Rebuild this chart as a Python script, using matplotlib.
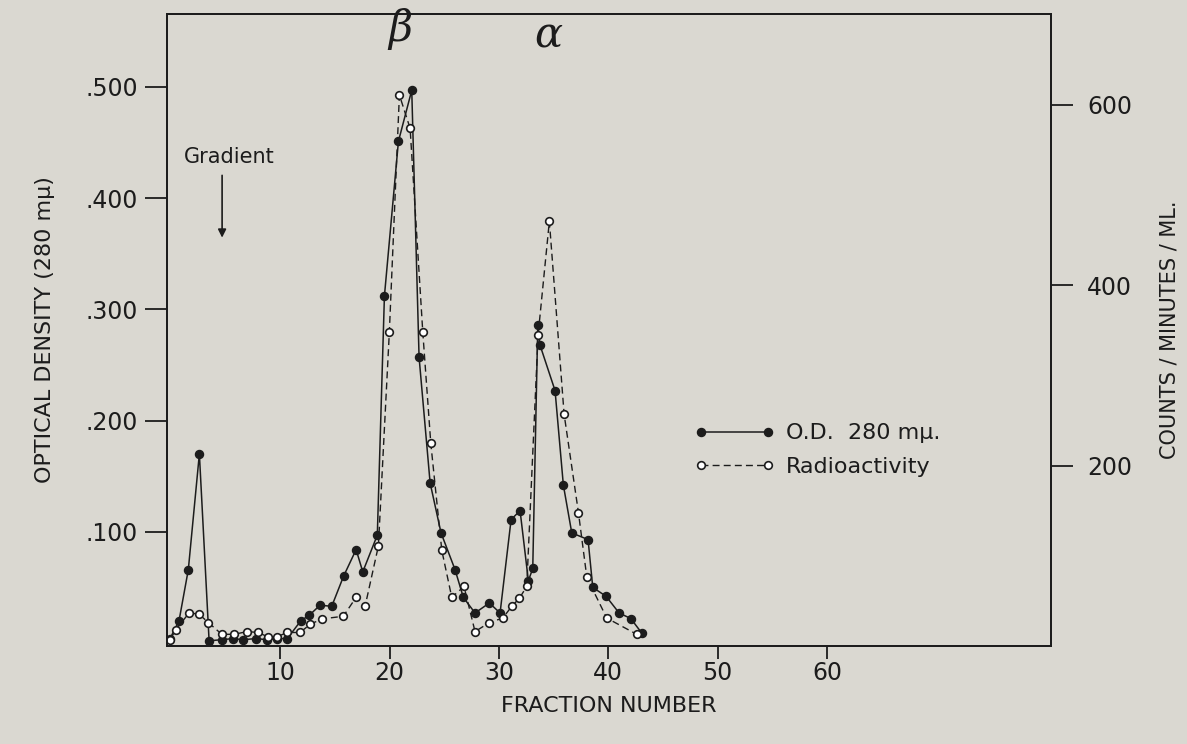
import matplotlib.pyplot as plt

# fraction number / optical density (filled points)
od_x = [-0.09, 0.73, 1.58, 2.59, 3.48, 4.67, 5.67, 6.59, 7.78, 8.76, 9.70, 10.64,
        11.87, 12.65, 13.63, 14.70, 15.78, 16.93, 17.54, 18.87, 19.52, 20.80, 22.02,
        22.69, 23.70, 24.70, 25.98, 26.74, 27.81, 29.12, 30.10, 31.11, 31.93, 32.69,
        33.09, 33.55, 33.75, 35.13, 35.89, 36.66, 38.15, 38.58, 39.80, 40.99, 42.06,
        43.06]
od_y = [0.004, 0.020, 0.066, 0.170, 0.002, 0.003, 0.004, 0.003, 0.004, 0.003, 0.004,
        0.004, 0.020, 0.025, 0.034, 0.033, 0.060, 0.084, 0.064, 0.097, 0.312, 0.451,
        0.497, 0.257, 0.144, 0.099, 0.066, 0.041, 0.027, 0.036, 0.027, 0.111, 0.119,
        0.056, 0.067, 0.286, 0.268, 0.227, 0.142, 0.099, 0.093, 0.050, 0.042, 0.027,
        0.022, 0.009]

# fraction number / counts per minute per ml (open points)
cpm_x = [-0.09, 0.43, 1.67, 2.59, 3.41, 4.64, 5.76, 6.98, 7.99, 8.87, 9.65, 10.61,
         11.80, 12.72, 13.79, 15.76, 16.93, 17.75, 18.97, 19.97, 20.89, 21.87, 23.03,
         23.76, 24.77, 25.68, 26.80, 27.81, 29.12, 30.35, 31.17, 31.87, 32.54, 33.58,
         34.61, 35.96, 37.27, 38.04, 39.86, 42.60]
cpm_y = [7, 18, 37, 35, 26, 13, 13, 16, 15, 10, 10, 15,
         15, 24, 30, 33, 54, 44, 111, 348, 611, 574, 348,
         225, 106, 54, 66, 16, 26, 31, 44, 53, 66, 345,
         471, 257, 148, 76, 31, 13]

x_ticks = [10, 20, 30, 40, 50, 60]
od_ticks = [0.1, 0.2, 0.3, 0.4, 0.5]
od_labels = ['.100', '.200', '.300', '.400', '.500']
cpm_ticks = [200, 400, 600]

bg = '#dad8d1'
ink = '#1c1c1c'
plt.rcParams['font.family'] = 'DejaVu Sans'

fig = plt.figure(figsize=(11.87, 7.44), dpi=100, facecolor=bg)
ax = fig.add_axes([0.1407, 0.1317, 0.7447, 0.8495], facecolor=bg)
ax2 = ax.twinx()

l1, = ax.plot(od_x, od_y, '-', color=ink, lw=1.1, marker='o', ms=5.8,
              mfc=ink, mec=ink, zorder=3, label='O.D.  280 m\u03bc.')
l2, = ax2.plot(cpm_x, cpm_y, '--', color=ink, lw=1.0, dashes=(5, 3), marker='o',
               ms=5.5, mfc='white', mec=ink, mew=1.2, zorder=2, label='Radioactivity')

ax.set_xlim(-0.37, 80.5)
ax.set_ylim(-0.0027, 0.5656)
ax2.set_ylim(0, 700.8)

ax.set_xticks(x_ticks)
ax.set_yticks(od_ticks)
ax.set_yticklabels(od_labels)
ax2.set_yticks(cpm_ticks)

for a in (ax, ax2):
    for s in a.spines.values():
        s.set_color(ink)
        s.set_linewidth(1.3)
ax.tick_params(axis='y', direction='out', length=16, width=1.3, pad=5,
               labelsize=17, colors=ink)
ax.tick_params(axis='x', direction='out', length=9, width=1.3, pad=2,
               labelsize=17, colors=ink)
ax2.tick_params(axis='y', direction='out', length=16, width=1.3, pad=10,
                labelsize=17, colors=ink)

ax.set_xlabel('FRACTION NUMBER', fontsize=16, color=ink, labelpad=8)
ax.set_ylabel('OPTICAL DENSITY (280 m\u03bc)', fontsize=16, color=ink, labelpad=22)
ax2.set_ylabel('COUNTS / MINUTES / ML.', fontsize=15, color=ink, labelpad=20)

# peak names
ax.text(21.0, 0.552, '\u03b2', fontsize=30, family='DejaVu Serif', style='italic',
        ha='center', va='center', color=ink)
ax.text(34.5, 0.546, '\u03b1', fontsize=30, family='DejaVu Serif', style='italic',
        ha='center', va='center', color=ink)

# gradient arrow
ax.text(5.3, 0.437, 'Gradient', fontsize=15, ha='center', va='center', color=ink)
ax.annotate('', xy=(4.67, 0.362), xytext=(4.67, 0.423),
            arrowprops=dict(arrowstyle='-|>', color=ink, lw=1.2, mutation_scale=12))

leg = ax.legend(handles=[l1, l2], loc='center left', bbox_to_anchor=(0.574, 0.31),
                frameon=False, fontsize=16, handlelength=3.6, handletextpad=0.5,
                labelspacing=0.6, numpoints=2)
for t in leg.get_texts():
    t.set_color(ink)

fig.savefig('out.png', dpi=100, facecolor=bg)
